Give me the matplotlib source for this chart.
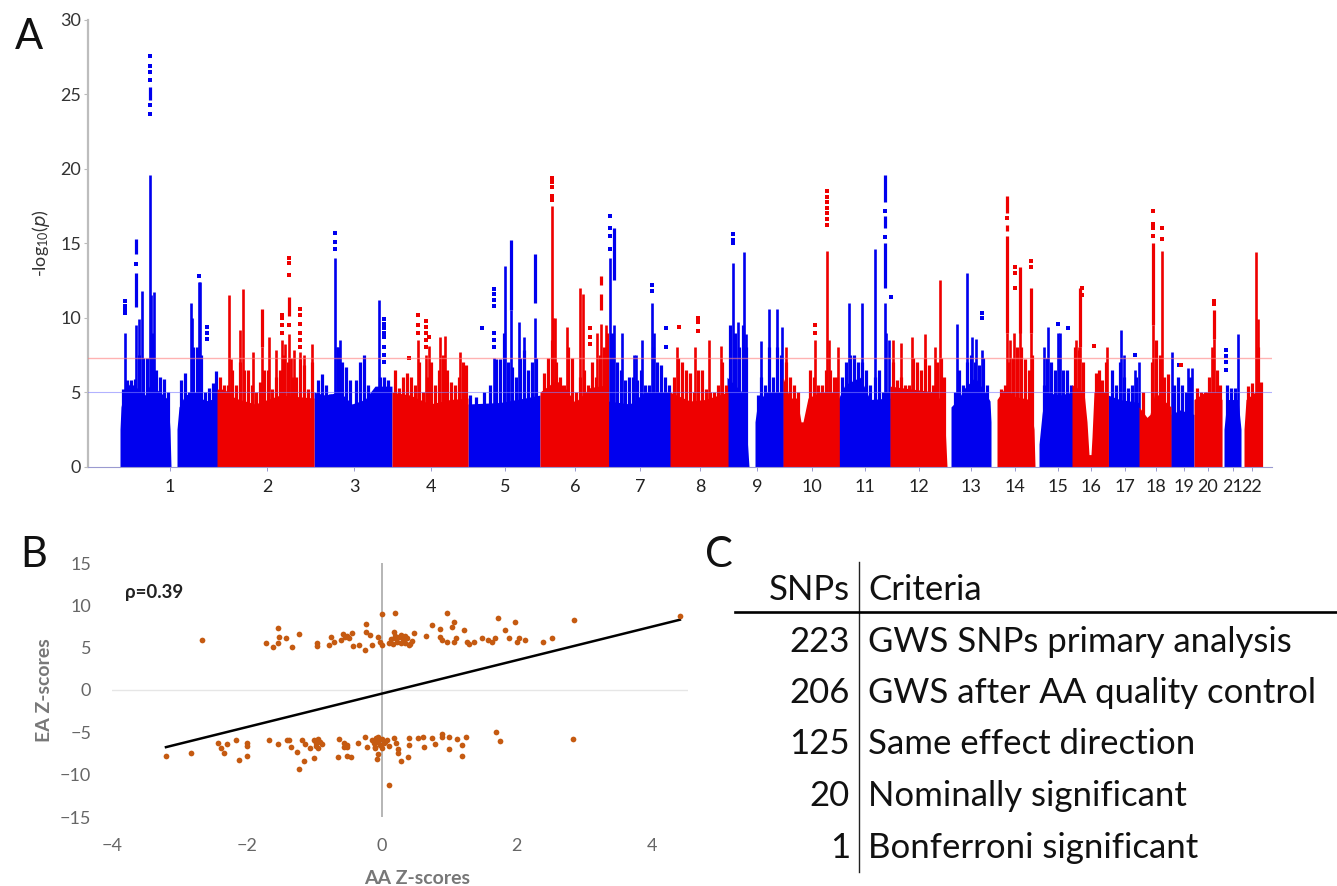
import matplotlib
matplotlib.use("Agg")
import matplotlib.pyplot as plt

W, H = 1337, 886
BLUE = "#0000ee"
RED = "#ee0000"
ORANGE = "#c55a11"

chrom_labels = [str(i) for i in range(1, 23)]
chrom_ticks = [170, 267, 354, 431, 505, 575, 640, 700, 757, 812, 865, 919, 971, 1015,
               1058, 1091, 1125, 1156, 1184, 1208, 1233, 1252]

# lower envelope of each block of SNPs: (position, -log10 p)
blue_blocks = [
    [(120, 2.5), (121, 4), (124, 5), (130, 5.6), (135, 5.4), (145, 4.8), (150, 5.5), (160, 5), (168, 4.5), (170, 2.5), (171, 0)],
    [(177, 2.5), (179, 4), (185, 4.8), (195, 5), (205, 4.4), (217, 4.6)],
    [(314, 5), (325, 4.8), (340, 5), (352, 4.2), (365, 4.5), (375, 5.4), (392, 5.4)],
    [(468, 4.2), (500, 4.3), (525, 4.6), (540, 4.8)],
    [(608, 4.4), (630, 4.2), (645, 5), (670, 5)],
    [(727, 6), (742, 5), (745, 4), (747, 2), (749, 0)],
    [(755, 3), (757, 4), (765, 5), (783, 5)],
    [(838, 4.5), (845, 5.5), (860, 6), (870, 4.5), (890, 4.6)],
    [(951, 4), (958, 4.5), (965, 5.3), (975, 6), (985, 5), (990, 4.4), (991, 3)],
    [(1039, 1.5), (1042, 3.5), (1045, 5), (1060, 4.8), (1072, 5)],
    [(1108, 4.8), (1120, 4.5), (1139, 4.3)],
    [(1171, 3.5), (1180, 3.8), (1194, 3.5)],
    [(1224, 2.5), (1227, 4.5), (1238, 4.5), (1241, 2.5)],
]
red_blocks = [
    [(217, 5.2), (224, 5.2), (235, 4.6), (255, 4.2), (280, 4.8), (314, 4.6)],
    [(392, 5), (410, 4.8), (430, 4.2), (450, 4.5), (468, 4.6)],
    [(540, 5), (556, 5.8), (565, 5.3), (575, 4.3), (590, 5.3), (608, 5.5)],
    [(670, 5), (690, 4.4), (705, 4.5), (728, 5)],
    [(783, 6), (790, 4.6), (797, 4.6), (801, 3), (803, 3), (808, 4.6), (820, 5), (838, 5)],
    [(890, 5.4), (935, 5), (940, 4.5), (945, 2.8), (947, 0)],
    [(997, 4.5), (1005, 5.3), (1015, 4.7), (1030, 4.5), (1034, 2.5), (1035, 0)],
    [(1072, 5.5), (1084, 5), (1087, 3), (1089, 0.8), (1091, 0.8), (1092, 2), (1094, 5), (1108, 5)],
    [(1139, 4), (1147, 3.3), (1150, 3.5), (1155, 5), (1171, 4)],
    [(1194, 4.5), (1205, 5), (1215, 5), (1222, 4.5)],
    [(1244, 2.5), (1246, 4.5), (1255, 5), (1262, 4)],
]

# broad shoulders of the skyline: (position, top)
blue_shoulders = [
    (123, 5.2), (127, 5.8), (131, 5.8), (135, 5.9), (139, 7.5), (143, 7.3), (147, 7.3), (152, 9), (156, 6.5), (160, 6),
    (164, 5.9), (168, 5), (181, 5.8), (185, 6.3), (189, 5), (193, 8), (197, 8), (201, 7.5), (205, 5), (209, 5.3),
    (213, 5.6), (216, 6.4), (318, 5.8), (322, 6.2), (326, 5.5), (330, 4.9), (338, 8), (342, 7), (346, 6.7), (350, 5.8),
    (356, 5.8), (360, 7), (364, 7.5), (368, 5.5), (372, 5), (376, 5), (380, 6), (384, 6), (388, 5.8), (470, 4.8),
    (476, 4.7), (484, 5), (490, 5.5), (496, 7.2), (500, 7.2), (504, 9), (508, 7), (512, 6.7), (516, 6), (520, 7.3),
    (524, 7.8), (528, 6.5), (532, 7), (536, 7.3), (612, 9), (617, 7), (621, 6.5), (625, 5.8), (629, 6), (633, 6),
    (637, 5.8), (641, 6.5), (645, 5.5), (649, 5.5), (653, 8), (657, 7), (661, 6.8), (665, 6), (669, 5.5), (730, 9.5),
    (735, 9), (739, 8), (743, 9.5), (746, 8), (758, 4.8), (761, 6), (765, 5.5), (769, 8), (773, 6), (777, 8), (781, 7.5),
    (842, 6), (846, 7), (850, 7.5), (854, 7.5), (858, 7), (862, 7), (866, 6.5), (870, 5.5), (875, 6), (879, 6.5),
    (883, 5), (887, 5), (955, 5), (959, 6.5), (963, 5.5), (967, 7), (971, 7.5), (975, 7), (979, 6.8), (983, 7.3),
    (987, 5.5), (1044, 5.5), (1047, 7.3), (1051, 7), (1055, 6.5), (1059, 7.5), (1063, 6.5), (1067, 6.5), (1071, 5.5),
    (1112, 6.5), (1116, 5.5), (1120, 7), (1124, 6), (1128, 5.3), (1132, 5.5), (1136, 6), (1174, 5.5), (1178, 6),
    (1182, 5.5), (1186, 5), (1190, 6), (1227, 5.5), (1231, 5.3), (1235, 5.3),
]
red_shoulders = [
    (220, 6), (224, 5.5), (228, 5.5), (232, 6.5), (236, 5.5), (240, 7), (244, 6.5), (248, 6.5), (252, 5.5), (256, 5),
    (260, 5.7), (264, 6.5), (268, 6.5), (272, 5.2), (276, 6), (280, 6.5), (284, 7.5), (288, 7), (292, 6), (296, 6),
    (300, 7.2), (304, 6.8), (308, 5.2), (312, 7), (395, 6.5), (399, 5.3), (403, 6), (407, 6.3), (411, 6), (415, 5.5),
    (419, 7), (423, 5), (427, 6), (431, 7), (435, 5.5), (439, 6.5), (443, 7.5), (447, 6.5), (451, 5.7), (455, 5.5),
    (459, 6), (463, 7), (466, 6.8), (544, 6.3), (548, 7.3), (552, 8.5), (556, 7), (560, 6), (564, 5.5), (568, 8),
    (572, 7.3), (576, 5), (580, 6), (584, 6.5), (588, 5.5), (592, 7), (596, 6), (600, 7.5), (604, 8), (607, 9),
    (674, 6), (678, 7.3), (682, 7), (686, 6.5), (690, 6.3), (694, 5), (698, 6.5), (702, 6.5), (706, 5.2), (710, 5),
    (714, 5), (718, 5.5), (722, 7), (726, 5.5), (786, 7), (790, 6), (794, 5.5), (798, 5), (810, 6.5), (814, 6),
    (818, 5.5), (822, 5.5), (826, 6.5), (830, 6.5), (834, 6), (837, 6), (893, 7), (897, 5.8), (901, 6), (905, 5.5),
    (909, 5.5), (913, 7.3), (917, 7), (921, 6.5), (925, 7.3), (929, 6.8), (933, 5.5), (937, 7), (941, 7.3), (944, 6),
    (1001, 5.2), (1005, 5.5), (1009, 7), (1013, 7.3), (1017, 8), (1021, 8), (1025, 7.2), (1029, 6.5), (1032, 7.5),
    (1075, 8), (1079, 7.8), (1083, 7), (1096, 6.3), (1099, 6.5), (1102, 5.8), (1106, 7), (1143, 5), (1152, 7),
    (1156, 8.5), (1160, 7.5), (1164, 6), (1168, 6.2), (1197, 5.3), (1201, 5), (1205, 5), (1209, 6), (1213, 7.5),
    (1217, 6.5), (1220, 5.5), (1248, 5.4), (1252, 5.6), (1258, 8), (1261, 5.7),
]

# solid columns: (position, top)
blue_spikes = [
    (124.5, 9), (135.5, 9.5), (139, 9.9), (141.5, 11.8), (149.5, 19.6), (151, 11.5), (153.5, 11.7), (190.5, 11),
    (192, 10), (198.5, 12.4), (200, 12.4), (334.5, 14), (337, 8), (340, 8.5), (378.5, 11.2), (494, 7.3), (504.5, 13.5),
    (510.5, 10.5), (518.5, 9.7), (524, 8.7), (534.5, 10), (609.5, 14), (613.5, 9.5), (622, 9), (634, 7.5), (636, 7.5),
    (642, 8.5), (652, 11), (654, 9), (733, 13.7), (738, 9.7), (744, 14.4), (746, 8.9), (761, 8.4), (769, 10.6),
    (777, 10.6), (782, 9.4), (849, 11), (862, 11), (874.5, 14.6), (884.5, 11), (886, 9), (888.5, 8.5), (957, 9.6),
    (966.5, 13), (972, 8.7), (976, 8.6), (982, 7.8), (1044, 8), (1048, 9.4), (1058, 9), (1060, 9), (1121, 9.2),
    (1124, 7.5), (1135, 6.5), (1139, 7), (1172, 7.7), (1188, 6.6), (1192, 6.6), (1238, 8.9),
]
red_spikes = [
    (228.5, 11.5), (231, 7.2), (240, 9.2), (242.5, 11.9), (253, 7.7), (261.5, 8), (269, 8.7), (276, 7.8), (282, 8.5),
    (285, 8.2), (288.5, 8.9), (291, 7.3), (294, 7.8), (300, 7.7), (304, 7.5), (312, 8.2), (418, 8.5), (425.5, 7.5),
    (429, 8.1), (440, 8.7), (445, 8.8), (460, 7.7), (551.5, 17.5), (553, 10), (555, 10), (567, 9.4), (580, 12), (583, 11.6),
    (597, 9), (600.5, 9.6), (606, 9.5), (677, 8), (695, 8), (709, 8.5), (721, 8.1), (786, 8), (815, 8.5), (827, 14.5),
    (829, 8.5), (838, 8), (893, 8.5), (901, 8.3), (912, 8.7), (925, 8.9), (935, 8), (940, 12.5), (1007, 9), (1010, 8.5),
    (1014, 9), (1020, 10), (1031, 9), (1076, 8.5), (1079, 8), (1080, 8), (1106.5, 8), (1153, 9.5), (1156, 8), (1162, 14.5),
    (1212, 8), (1214, 8.6), (1256, 14.4), (1258, 9.9),
]

# columns that are nearly solid but float above the rest: (position, from, to)
blue_runs = [
    (135.5, 10.7, 13), (135.5, 14.3, 15.3), (149.5, 24.6, 25.5), (510.5, 10.5, 15.2), (534.5, 11, 14.3), (613.5, 12.5, 16),
    (884.5, 12, 15), (884.5, 16, 16.8), (884.5, 17.8, 19.6),
]
red_runs = [
    (1007, 9, 15.5), (1007, 15.8, 16.2), (1007, 17, 18.2), (1020, 9, 13.4), (1031, 9, 12), (1153, 9.5, 15), (1080, 8, 12),
    (600.5, 10.5, 11.6), (600.5, 12.2, 12.8), (261.5, 8, 10.6), (1214, 8.6, 10.5), (288.5, 10.1, 11.4),
]

# isolated SNPs above the columns: (position, values)
blue_dots = [
    (124.5, [10.3, 10.5, 10.8, 11.1]), (135.5, [13.6]),
    (149.5, [23.7, 24.3, 26, 26.5, 26.9, 27.6]),
    (198.5, [12.8]), (207, [8.6, 9, 9.4]), (334.5, [14.6, 15.1, 15.7]),
    (384, [7, 7.5, 8, 8.7, 9, 9.3, 9.6, 9.9]), (482, [9.3]), (494, [8, 8.5, 9, 10.8, 11.2, 11.6, 11.9]),
    (609.5, [14.6, 15.5, 16, 16.8]), (652, [11.8, 12.2]), (666, [8, 9.3]), (733, [15, 15.2, 15.6]),
    (884.5, [15.4, 17.2]), (891, [11.4]), (982, [10, 10.3]), (1058, [9.6]), (1068, [9.3]), (1135, [7.5]), (1179, [6.8]),
    (1226, [6.5, 7, 7.4, 7.8]),
]
red_dots = [
    (288.5, [9.5, 12.9, 13.7, 14]), (282, [9, 9.5, 10, 10.2]),
    (300, [8, 8.5, 9, 9.6, 10.2, 10.6]), (408.5, [7.3]), (418, [9, 9.5, 10.2]), (425.5, [8, 8.5, 9, 9.4, 9.8]),
    (429, [8.7]), (551.5, [17.9, 18.2, 18.8, 19.1, 19.4]), (590, [8.2, 8.7, 9.3]), (679, [9.4]), (698, [9.1, 9.7, 10]),
    (815, [9, 9.5]), (827, [16.2, 16.6, 17, 17.4, 17.8, 18.1, 18.5]), (1007, [16.7]),
    (1015, [12, 13, 13.4]), (1031, [13.4, 13.8]), (1082, [11.5, 12]), (1094, [8.1]),
    (1153, [15.5, 16, 16.3, 17.2]), (1162, [15.3, 16]), (1214, [10.9, 11.1]), (1181, [6.8]),
]

# panel B: z-scores
aa_upper = [-2.67, -1.72, -1.62, -1.54, -1.52, -1.54, -1.42, -1.33, -1.23, -0.96, -0.96, -0.78, -0.75, -0.71, -0.61,
            -0.58, -0.55, -0.51, -0.48, -0.44, -0.42, -0.34, -0.25, -0.24, -0.24, -0.18, -0.15, -0.05, -0.03, 0.0, 0.0,
            0.2, 0.18, 0.1, 0.14, 0.17, 0.2, 0.23, 0.26, 0.29, 0.32, 0.35, 0.38, 0.42, 0.45, 0.2, 0.28, 0.34, 0.4, 0.48,
            0.65, 0.74, 0.86, 0.87, 0.9, 0.97, 1.07, 1.1, 0.97, 1.07, 1.04, 1.22, 1.26, 1.3, 1.37, 1.48, 1.58, 1.63, 1.68,
            1.73, 1.82, 1.88, 1.98, 2.0, 2.03, 2.13, 2.39, 2.52, 2.85, 4.42]
ea_upper = [5.9, 5.5, 5.1, 7.3, 6.3, 5.6, 6.1, 5.1, 6.6, 5.5, 5.2, 5.3, 6.3, 5.7, 5.9, 6.6, 6.3, 6.35, 6.1, 6.7, 5.2, 5.3,
            4.7, 7.8, 6.9, 6.5, 5.3, 6.3, 5.7, 5.3, 9.0, 9.15, 6.9, 5.6, 6.0, 5.4, 6.1, 5.7, 6.3, 5.5, 6.0, 5.6, 6.2, 5.4,
            5.8, 6.4, 6.5, 6.4, 5.3, 6.7, 6.35, 7.7, 7.25, 6.3, 5.9, 5.7, 5.7, 6.1, 9.1, 8, 7.45, 7.1, 5.7, 5.4, 5.7, 6.1,
            5.9, 5.7, 6.1, 8.5, 7.1, 6.2, 8, 5.7, 6.1, 5.9, 5.7, 6.1, 8.3, 8.7]
aa_lower = [-3.2, -2.83, -2.43, -2.38, -2.34, -2.3, -2.16, -2.12, -2, -2, -2, -1.67, -1.54, -1.41, -1.38, -1.35, -1.26,
            -1.23, -1.16, -1.18, -1.14, -1.06, -1.01, -1.0, -0.97, -0.94, -0.91, -0.89, -0.98, -0.94, -0.65, -0.63, -0.56,
            -0.51, -0.56, -0.52, -0.51, -0.46, -0.35, -0.25, -0.22, -0.07, -0.05, -0.15, -0.12, -0.1, -0.08, -0.05, -0.02,
            0.01, 0.04, 0.07, 0.1, -0.1, -0.05, 0.0, 0.05, 0.11, 0.18, 0.21, 0.24, 0.24, 0.29, 0.39, 0.41, 0.41, 0.54, 0.61,
            0.63, 0.74, 0.79, 0.9, 0.9, 0.99, 0.99, 1.12, 1.19, 1.19, 1.25, 1.7, 1.76, 2.84]
ea_lower = [-7.8, -7.45, -6.3, -6.9, -7.4, -6.35, -5.9, -8.3, -6.3, -6.6, -7.8, -5.9, -6.35, -5.9, -5.9, -6.7, -7.3, -9.3,
            -8.4, -5.9, -6.35, -6.9, -8, -5.9, -6.3, -5.8, -6.1, -6.4, -6.6, -6.8, -7.9, -5.8, -6.3, -6.7, -6.7, -6.5,
            -7.8, -7.9, -6.3, -5.5, -6.7, -8.2, -7.5, -5.9, -6.3, -6.7, -5.7, -6.1, -6.5, -5.8, -6.3, -5.9, -6.6, -6.9,
            -5.5, -6.8, -6.1, -11.25, -5.7, -6.3, -7, -7.45, -8.4, -7.9, -6.5, -5.7, -5.7, -5.5, -6.7, -5.7, -6.35, -5.2,
            -5.6, -5.5, -7, -5.8, -6.5, -7.8, -5.5, -5, -6, -5.8]
trend_aa = [-3.2, 4.42]
trend_ea = [-6.75, 8.3]

# panel C
snp_counts = ["223", "206", "125", "20", "1"]
criteria = ["GWS SNPs primary analysis", "GWS after AA quality control", "Same effect direction",
            "Nominally significant", "Bonferroni significant"]


def add_axes(left, top, right, bottom):
    return fig.add_axes([left / W, 1 - bottom / H, (right - left) / W, (bottom - top) / H])


def draw_colour(ax, blocks, shoulders, spikes, runs, dots, color):
    for block in blocks:
        ax.fill_between([p[0] for p in block], [p[1] for p in block], color=color, lw=0, zorder=2)
    ax.vlines([s[0] for s in shoulders], 0, [s[1] for s in shoulders], color=color, lw=2.3, zorder=2)
    ax.vlines([s[0] for s in spikes], 0, [s[1] for s in spikes], color=color, lw=1.9, zorder=2)
    ax.vlines([r[0] for r in runs], [r[1] for r in runs], [r[2] for r in runs], color=color, lw=2.3, zorder=2)
    xs = [d[0] for d in dots for _ in d[1]]
    ys = [v for d in dots for v in d[1]]
    ax.plot(xs, ys, ls="", marker="s", ms=2.4, mew=0, color=color, zorder=2)


def draw_manhattan(ax):
    draw_colour(ax, blue_blocks, blue_shoulders, blue_spikes, blue_runs, blue_dots, BLUE)
    draw_colour(ax, red_blocks, red_shoulders, red_spikes, red_runs, red_dots, RED)
    ax.axhline(7.3, color="#ff8080", lw=1, alpha=0.6, zorder=3)
    ax.axhline(5, color="#8080ff", lw=0.8, alpha=0.6, zorder=3)
    ax.set_xlim(88, 1272)
    ax.set_ylim(0, 30)
    ax.set_yticks(range(0, 31, 5))
    ax.set_xticks(chrom_ticks)
    ax.set_xticklabels(chrom_labels)
    ax.tick_params(axis="x", length=3, width=0.7, color="#9a9ad0", labelsize=13, pad=6, labelcolor="#222222")
    ax.tick_params(axis="y", length=3, width=0.8, color="#bbbbbb", labelsize=13, pad=2, labelcolor="#333333")
    for side in ("top", "right"):
        ax.spines[side].set_visible(False)
    ax.spines["left"].set_color("#bdbdbd")
    ax.spines["left"].set_linewidth(1.6)
    ax.spines["bottom"].set_color("#9a9ad0")
    ax.spines["bottom"].set_linewidth(0.8)
    ax.set_ylabel(r"-log$_{10}$($\mathit{p}$)", fontsize=13, color="#333333", labelpad=6)


def draw_scatter(ax):
    ax.axhline(0, color="#e6e6e6", lw=1, zorder=1)
    ax.axvline(0, color="#b5b5b5", lw=1.4, zorder=1)
    ax.scatter(aa_upper + aa_lower, ea_upper + ea_lower, s=17, color=ORANGE, lw=0, zorder=3)
    ax.plot(trend_aa, trend_ea, color="black", lw=1.8, zorder=2)
    ax.set_xlim(-4, 4.54)
    ax.set_ylim(-15, 15)
    ax.set_xticks([-4, -2, 0, 2, 4])
    ax.set_yticks(range(-15, 16, 5))
    ax.tick_params(length=0, labelsize=13, labelcolor="#666666")
    ax.tick_params(axis="x", pad=15)
    ax.tick_params(axis="y", pad=15)
    for spine in ax.spines.values():
        spine.set_visible(False)
    ax.set_xlabel("AA Z-scores", fontsize=14, color="#777777", fontweight="bold", labelpad=12, x=0.53)
    ax.set_ylabel("EA Z-scores", fontsize=14, color="#777777", fontweight="bold", labelpad=5)
    ax.text(-3.8, 11.5, "\u03c1=0.39", fontsize=13.5, fontweight="bold", color="#222222", va="center")


def draw_table():
    kw = dict(fontsize=25, color="#111111", va="center")
    fig.text(850 / W, 1 - 590 / H, "SNPs", ha="right", **kw)
    fig.text(868 / W, 1 - 590 / H, "Criteria", ha="left", **kw)
    for i, (count, label) in enumerate(zip(snp_counts, criteria)):
        y = [642, 693, 744, 796, 848][i]
        fig.text(850 / W, 1 - y / H, count, ha="right", **kw)
        fig.text(868 / W, 1 - y / H, label, ha="left", **kw)
    fig.add_artist(plt.Line2D([859 / W, 859 / W], [1 - 562 / H, 1 - 872 / H], color="#222222", lw=1))
    fig.add_artist(plt.Line2D([735 / W, 1336 / W], [1 - 612 / H, 1 - 612 / H], color="black", lw=1.9))


plt.rcParams["font.family"] = ["Lato", "DejaVu Sans"]
plt.rcParams["mathtext.default"] = "regular"

fig = plt.figure(figsize=(W / 100, H / 100), dpi=100, facecolor="white")
draw_manhattan(add_axes(88, 20, 1272, 466.5))
draw_scatter(add_axes(112, 563, 688, 817))
draw_table()

for letter, x, y in (("A", 29, 37), ("B", 34, 555), ("C", 719, 555)):
    fig.text(x / W, 1 - y / H, letter, fontsize=30, color="#111111", ha="center", va="center")

fig.savefig("out.png", dpi=100)
